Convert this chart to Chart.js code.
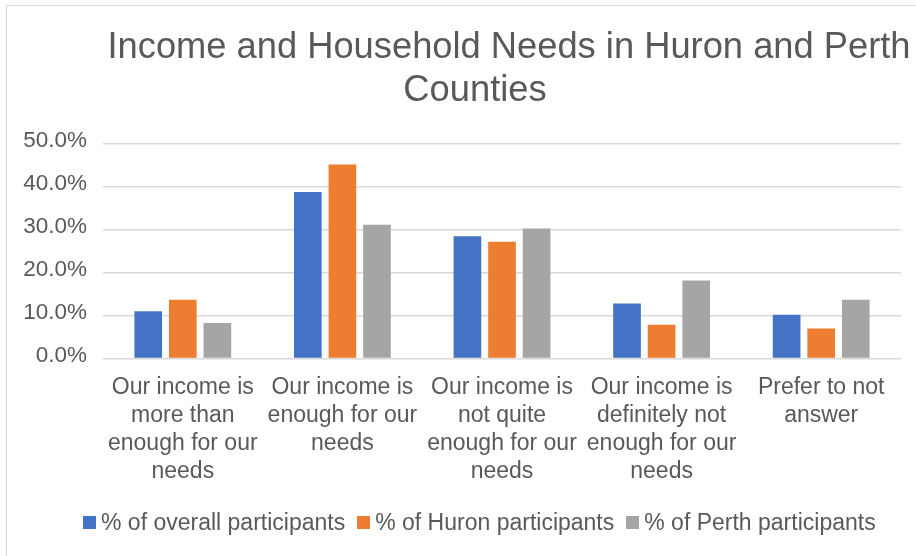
<!DOCTYPE html>
<html>
<head>
<meta charset="utf-8">
<script src="https://cdn.jsdelivr.net/npm/chart.js@4.4.1/dist/chart.umd.min.js"></script>
<style>
  html, body { margin: 0; padding: 0; background: #fff; width: 916px; height: 556px; overflow: hidden; }
  #frame { position: absolute; left: 6px; top: 5px; width: 1000px; height: 600px;
           border-left: 1px solid #d9d9d9; border-top: 1px solid #d9d9d9; }
  #wrap { position: absolute; left: 0; top: 0; width: 909px; height: 550px; }
  #legend { position: absolute; left: 83px; top: 509px; display: flex; align-items: center;
            font: 23px "Liberation Sans", Arial, Helvetica, sans-serif; color: #595959; white-space: nowrap; }
  #legend .item { display: flex; align-items: center; margin-right: 12px; }
  #legend .box { width: 13px; height: 13px; margin-right: 5px; }
</style>
</head>
<body>
<div id="frame"><div id="wrap"><canvas id="chart"></canvas></div></div>
<div id="legend"></div>
<script>
// Response categories (wrapped into lines for the axis)
const categories = [
  ['Our income is', 'more than', 'enough for our', 'needs'],
  ['Our income is', 'enough for our', 'needs'],
  ['Our income is', 'not quite', 'enough for our', 'needs'],
  ['Our income is', 'definitely not', 'enough for our', 'needs'],
  ['Prefer to not', 'answer']
];

// Share of respondents (%) per group
const overallParticipants = [11.0, 38.8, 28.5, 12.8, 10.2];
const huronParticipants   = [13.7, 45.2, 27.2, 7.9, 7.0];
const perthParticipants   = [8.3, 31.2, 30.3, 18.2, 13.7];

const seriesNames = ['% of overall participants', '% of Huron participants', '% of Perth participants'];
const seriesColors = ['#4472C4', '#ED7D31', '#A5A5A5'];
const titleLines = ['Income and Household Needs in Huron and Perth', 'Counties'];

const FONT = '"Liberation Sans", Arial, Helvetica, sans-serif';
const TEXT = '#595959';

// Two-line chart title, each line centred on its own anchor
const titlePlugin = {
  id: 'twoLineTitle',
  afterDraw(chart) {
    const ctx = chart.ctx;
    ctx.save();
    ctx.fillStyle = TEXT;
    ctx.font = '36.3px ' + FONT;
    ctx.textAlign = 'center';
    ctx.textBaseline = 'alphabetic';
    ctx.fillText(titleLines[0], 502, 52);
    ctx.fillText(titleLines[1], 468, 95);
    ctx.restore();
  }
};

const chart = new Chart(document.getElementById('chart'), {
  type: 'bar',
  data: {
    labels: categories,
    datasets: [
      { label: seriesNames[0], data: overallParticipants, backgroundColor: seriesColors[0] },
      { label: seriesNames[1], data: huronParticipants,   backgroundColor: seriesColors[1] },
      { label: seriesNames[2], data: perthParticipants,   backgroundColor: seriesColors[2] }
    ]
  },
  options: {
    responsive: true,
    maintainAspectRatio: false,
    devicePixelRatio: 1,
    animation: false,
    datasets: { bar: { categoryPercentage: 0.65, barPercentage: 0.8 } },
    layout: { padding: { top: 138, right: 15, bottom: 63.5, left: 0 } },
    plugins: {
      title: { display: false },
      tooltip: { enabled: false },
      legend: { display: false }
    },
    scales: {
      x: {
        grid: { display: false },
        border: { display: false },
        ticks: {
          color: TEXT, maxRotation: 0, autoSkip: false, padding: 7,
          font: { family: FONT, size: 23, lineHeight: 1.217 }
        }
      },
      y: {
        min: 0, max: 50,
        afterFit(scale) { scale.width = 96; },
        grid: { color: '#D9D9D9', lineWidth: 1.5, drawTicks: false },
        border: { display: false },
        ticks: {
          stepSize: 10, padding: 16, labelOffset: -3, color: TEXT,
          font: { family: FONT, size: 22.5 },
          callback: v => v.toFixed(1) + '%'
        }
      }
    }
  },
  plugins: [titlePlugin]
});

// Legend built from the chart's own datasets
const legendEl = document.getElementById('legend');
chart.data.datasets.forEach(ds => {
  const item = document.createElement('span');
  item.className = 'item';
  const box = document.createElement('span');
  box.className = 'box';
  box.style.background = ds.backgroundColor;
  const label = document.createElement('span');
  label.textContent = ds.label;
  item.appendChild(box);
  item.appendChild(label);
  legendEl.appendChild(item);
});
</script>
</body>
</html>
